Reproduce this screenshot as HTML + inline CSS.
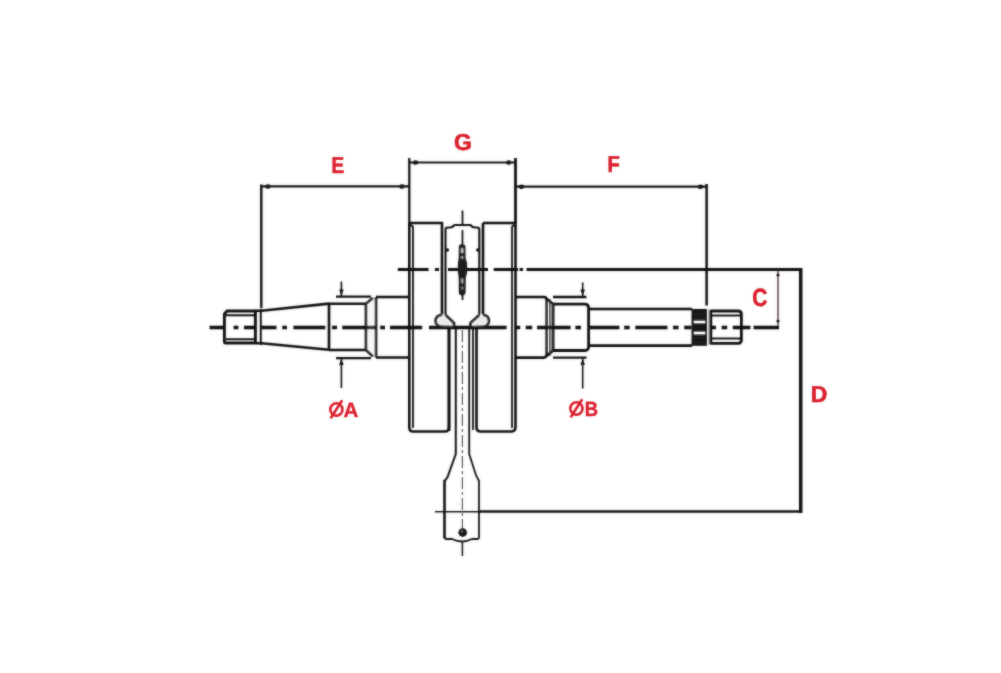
<!DOCTYPE html>
<html><head><meta charset="utf-8"><style>
html,body{margin:0;padding:0;background:#fff;width:1001px;height:673px;overflow:hidden}
svg{display:block}
.t{font-family:"Liberation Sans",sans-serif;font-weight:bold;fill:#da1d2b;stroke:#da1d2b;stroke-width:0.55px}
</style></head><body>
<svg width="1001" height="673" viewBox="0 0 1001 673">
<defs>
<filter id="b" filterUnits="userSpaceOnUse" x="0" y="0" width="1001" height="673"><feGaussianBlur in="SourceGraphic" stdDeviation="0.9" result="bl"/><feComposite in="bl" in2="SourceGraphic" operator="arithmetic" k1="0" k2="0.5" k3="0.5" k4="0"/></filter>
<filter id="bt" filterUnits="userSpaceOnUse" x="0" y="0" width="1001" height="673"><feGaussianBlur in="SourceGraphic" stdDeviation="0.8" result="bl"/><feComposite in="bl" in2="SourceGraphic" operator="arithmetic" k1="0" k2="0.4" k3="0.6" k4="0"/></filter>
</defs>
<g filter="url(#b)">
<path d="M442 315Q436 315 435.5 321Q436 327 444 327H454V323L445.5 315Z M483 315Q488.5 315 489 321Q488.5 327 481 327H470.5V323L479.3 315Z" fill="#ebebeb"/>
<path d="M366 303.8L373 298H376V357.5H373L366 350Z" fill="#f6f6f6"/>
<path d="M546.7 299L553 304V350.7L546.7 355.6Z" fill="#eeeeee"/>
<g fill="none" stroke="#101010" stroke-width="2.6" stroke-linecap="butt" stroke-linejoin="round">
<!-- dimension E -->
<path d="M261.3 184.5V308" stroke-width="2.4"/><path d="M261 186.4H409" stroke-width="2.1"/>
<!-- dimension G -->
<path d="M409.3 158V223" stroke-width="2.3"/><path d="M515.5 158V223" stroke-width="2.8"/><path d="M409 162.5H515.5" stroke-width="2.1"/>
<!-- dimension F -->
<path d="M515.5 186.6H706.5" stroke-width="2.1"/><path d="M706.6 184V305.5" stroke-width="2.5"/>
<!-- upper centerline -->
<path d="M397.8 269.5H428.6 M434.9 269.5H439 M448 269.5H488 M493.7 269.5H518 M519.5 269.5H523 M526.5 269.5H802" stroke-width="2.9"/>
<!-- D dimension -->
<path d="M800.7 268V513" stroke-width="3.4"/>
<path d="M435 511.7H480" stroke-width="1.6"/>
<path d="M480 511.6H802" stroke-width="2.5"/>
<!-- C dimension -->
<path d="M778 269V327" stroke-width="1.3" stroke="#3a2a2a"/>
<!-- main centerline -->
<path d="M209.6 327.5H224.0 M233.6 327.5H238.4 M244.0 327.5H256.0 M261.0 327.5H276.5 M282.2 327.5H287.0 M293.4 327.5H325.3 M332.0 327.5H337.0 M342.2 327.5H376.0 M380.2 327.5H385.0 M390.0 327.5H422.2 M429.0 327.5H489.0 M489.0 327.5H506.6 M515.5 327.5H520.2 M525.8 327.5H532.2 M537.0 327.5H570.6 M575.4 327.5H581.0 M589.0 327.5H619.4 M624.2 327.5H629.7 M635.3 327.5H667.4 M673.0 327.5H678.6 M684.2 327.5H691.5 M711.0 327.5H716.0 M721.7 327.5H727.2 M732.8 327.5H750.4 M753.6 327.5H779.0" stroke-width="3.3"/>

<!-- left thread end -->
<path d="M227 311H255.4V343H226Q224.4 343 224.4 341.5V314L227 311Z" stroke-width="2.9"/>
<path d="M226 315.2H255 M226 339.3H255" stroke-width="2"/>
<path d="M260.8 309V345" stroke-width="2"/>
<!-- taper -->
<path d="M255.4 310.8H261.5L329 303.6 M255.4 343.2H261.5L329 349.8"/>
<!-- bearing A -->
<path d="M329 303.8V349.5 M329 303.8H366V350H329 M366 303.8L373 298 M366 350L373 356.5 M376 297V357.5 M376 297H409 M376 357.5H409"/>
<!-- OA dim -->
<path d="M336 296.6H371 M336 358.2H371" stroke-width="2.2"/>
<path d="M341.4 281.5V296.6 M341.4 358.2V388" stroke-width="1.6"/>

<!-- left web -->
<path d="M409.3 223H442V315 M449 327V427Q449 431.5 445 431.5H413Q409.3 431.5 409.3 427V223"/>
<path d="M449 327V431" stroke-width="2.8"/>
<path d="M409.3 227Q411.2 223.5 413 227V428" stroke-width="1.8"/>
<!-- right web -->
<path d="M483 223H515.5V427Q515.5 431.5 511 431.5H480.5Q476.5 431.5 476.5 427V327 M483 223V315"/>
<path d="M515.5 227Q513.7 223.5 512 227V428" stroke-width="1.8"/>
<path d="M473 327V430" stroke-width="1.8"/>
<!-- conrod big end -->
<path d="M445.5 315V229.6Q445.5 227.5 447.6 227.5H450Q452.5 227.5 454.5 225H470.3Q472.3 227.5 474.8 227.5H477.2Q479.3 227.5 479.3 229.6V315" stroke-width="2.1"/>
<path d="M462.5 210.5V225 M462.5 230V244 M462.5 295V300" stroke-width="1.7"/>
<!-- shoulders -->
<path d="M442 315Q436 315 435.5 321Q436 327 444 327H449 M445.5 315L454 323V327 M483 315Q488.5 315 489 321Q488.5 327 481 327H476.5 M479.3 315L470.5 323V327"/>
<!-- conrod shaft -->
<path d="M455.8 327V454L447.3 477.6L444.5 481" stroke-width="2"/>
<path d="M469.2 327V454L476 475.2L479 481V537.5Q479 539 477 539H472Q462 544 452 539H447Q444.5 539 444.5 537" stroke-width="1.8"/>
<path d="M444.5 480V538" stroke-width="2.6"/>
<path d="M462.4 330V542" stroke-width="1.2" stroke-dasharray="12 3 3 3" stroke="#555"/>
<path d="M462.4 541V556" stroke-width="1.5"/>

<!-- right shoulder -->
<path d="M516 297H543.5Q546.7 297 546.7 300V354.6Q546.7 357.6 543.5 357.6H516"/>
<path d="M549.9 299V356" stroke-width="1.2"/>
<path d="M546.7 299L553 304 M546.7 355.6L553 350.7"/>
<path d="M553 304.2H584.6Q588.6 304.2 588.6 308.2V346.5Q588.6 350.5 584.6 350.5H553V304.2" stroke-width="2.8"/>
<path d="M553 297H586.5 M553 357.6H586.5" stroke-width="2.3"/>
<path d="M582.7 282.5V297 M582.7 357.6V388.5" stroke-width="1.6"/>
<!-- right shaft -->
<path d="M588.6 309H692 M588.6 345.6H692"/>
<path d="M708.7 309V345.5" stroke-width="1" stroke="#999"/>
<path d="M713 311H738Q741.4 311 741.4 314.5V340Q741.4 343.3 738 343.3H710.8V311H713" stroke-width="2.8"/>
<path d="M711 315.5H740 M711 338.6H740" stroke-width="2"/>
</g>
<!-- splines -->
<rect x="691.5" y="309" width="15.5" height="36.8" fill="#141414"/>
<path d="M694 322H705 M694 333.1H705" stroke="#fff" stroke-width="2.2"/>
<path d="M694 314H705 M694 318H705 M694 338H705 M694 342H705" stroke="#3a3a3a" stroke-width="0.7"/>
<!-- needle -->
<path d="M458.8 247Q459 244 462.2 244Q465.3 244 465.5 247L465.6 258Q467.3 262 467.3 268Q467.3 274 465.8 277L465.6 292Q465.3 295.5 462.2 295.5Q459 295.5 458.8 292L458.7 277Q457.8 274 457.8 268Q457.8 262 458.7 258Z" fill="#1c1c1c"/>
<ellipse cx="462.2" cy="250.5" rx="1.5" ry="2.8" fill="#bbb"/>
<ellipse cx="462.2" cy="257.5" rx="1.2" ry="1.4" fill="#aaa"/>
<ellipse cx="462.3" cy="281" rx="1.4" ry="3" fill="#999"/>
<ellipse cx="462.3" cy="288" rx="1.2" ry="2" fill="#777"/>
<circle cx="462.7" cy="532.5" r="4.3" fill="#141414"/>
<circle cx="462" cy="531.5" r="1.2" fill="#666"/>
<!-- arrow blobs -->
<g fill="#141414">
<circle cx="447.3" cy="250" r="1.8"/>
<circle cx="477.8" cy="250" r="1.8"/>
<ellipse cx="268" cy="186.5" rx="2.6" ry="2.3"/>
<ellipse cx="402" cy="186.5" rx="2.6" ry="2.3"/>
<ellipse cx="415.5" cy="162.5" rx="2.6" ry="2.3"/>
<ellipse cx="508.8" cy="162.5" rx="2.6" ry="2.3"/>
<ellipse cx="521.5" cy="186.7" rx="2.6" ry="2.3"/>
<ellipse cx="700.5" cy="186.7" rx="2.6" ry="2.3"/>
<path d="M339.1 289.5H343.7L341.4 296Z"/>
<path d="M339.1 365H343.7L341.4 358.5Z"/>
<path d="M580.4 289.5H585L582.7 296Z"/>
<path d="M580.4 365H585L582.7 358.5Z"/>
<circle cx="778" cy="275" r="1.6"/>
<circle cx="778" cy="321" r="1.6"/>
</g>
</g>
<!-- labels -->
<g filter="url(#bt)">
<text class="t" transform="translate(331.5 173.4) scale(0.83 1) skewX(0.3)" font-size="23">E</text>
<text class="t" transform="translate(454 149.7) skewX(0.3)" font-size="23">G</text>
<text class="t" transform="translate(607.6 172.2) scale(0.88 1) skewX(0.3)" font-size="23">F</text>
<text class="t" transform="translate(752.2 306.2) scale(0.84 1) skewX(0.3)" font-size="25">C</text>
<text class="t" transform="translate(810.8 401.5) scale(1.0 1) skewX(0.3)" font-size="23">D</text>
<ellipse cx="336.4" cy="409.5" rx="6.1" ry="6.2" fill="none" stroke="#da1d2b" stroke-width="2.6"/>
<path d="M330.6 418.4L342.2 400.3" stroke="#da1d2b" stroke-width="2.6" fill="none"/>
<text class="t" transform="translate(343.6 416.8) skewX(0.3)" font-size="20.6" style="stroke-width:0.3px">A</text>
<ellipse cx="576.4" cy="408.5" rx="6.1" ry="6.2" fill="none" stroke="#da1d2b" stroke-width="2.6"/>
<path d="M570.6 417.4L582.2 399.3" stroke="#da1d2b" stroke-width="2.6" fill="none"/>
<text class="t" transform="translate(584.8 415.8) scale(0.9 1) skewX(0.3)" font-size="20.6" style="stroke-width:0.3px">B</text>
</g>
</svg>
</body></html>
